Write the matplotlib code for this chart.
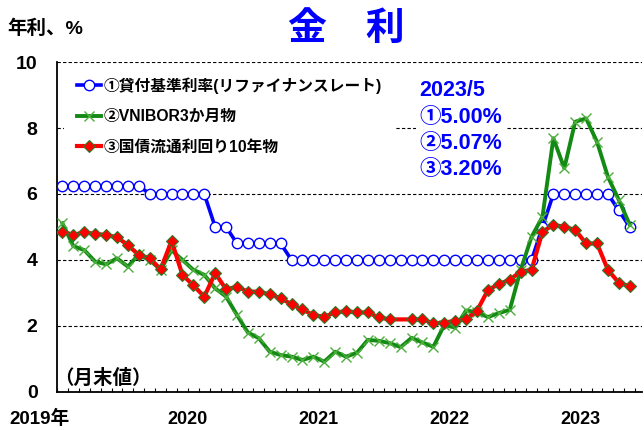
import matplotlib
matplotlib.use("Agg")
import matplotlib.pyplot as plt
import numpy as np

plt.rcParams['font.family'] = ['Liberation Sans', 'Noto Sans CJK JP']
plt.rcParams['font.weight'] = 'bold'

# monthly, 2019/1 .. 2023/5 (month-end values, %)
refinancing = [6.25] * 8 + [6.0] * 6 + [5.0] * 2 + [4.5] * 5 + [4.0] * 23 + [5.0] + [6.0] * 6 + [5.5, 5.0]
vnibor_3m = [5.11, 4.42, 4.30, 3.95, 3.87, 4.05, 3.80, 4.17, 4.00, 3.70, 4.30, 4.00,
             3.70, 3.55, 3.14, 2.89, 2.33, 1.80, 1.63, 1.22, 1.12, 1.07, 0.97, 1.07,
             0.92, 1.22, 1.07, 1.19, 1.58, 1.55, 1.48, 1.36, 1.64, 1.50, 1.37, 2.03,
             1.95, 2.47, 2.42, 2.27, 2.39, 2.49, 3.70, 4.70, 5.31, 7.69, 6.78, 8.19,
             8.29, 7.58, 6.52, 5.82, 5.07]
bond_10y = [4.86, 4.76, 4.84, 4.79, 4.76, 4.69, 4.45, 4.15, 4.05, 3.72, 4.58, 3.55,
            3.23, 2.89, 3.60, 3.11, 3.19, 3.04, 3.04, 2.96, 2.84, 2.66, 2.50, 2.33,
            2.28, 2.41, 2.45, 2.41, 2.41, 2.26, 2.20, 2.20, 2.20, 2.20, 2.08, 2.10,
            2.16, 2.20, 2.46, 3.09, 3.27, 3.40, 3.65, 3.70, 4.86, 5.06, 5.01, 4.91,
            4.50, 4.50, 3.70, 3.31, 3.20]
year_labels = ['2020', '2021', '2022', '2023']
series_names = ['①貸付基準利率(リファイナンスレート)', '②VNIBOR3か月物', '③国債流通利回り10年物']
latest_note = '2023/5\n①5.00%\n②5.07%\n③3.20%'

n = len(refinancing)
x = np.arange(n) + 0.5

fig = plt.figure(figsize=(6.44, 4.30), dpi=100)
ax = fig.add_axes([0.0885, 0.0884, 0.908, 0.7674])

l1, = ax.plot(x, refinancing, color='#0000ff', lw=2.6, marker='o', ms=7.5,
              mfc='white', mec='#0000ff', mew=1.0, zorder=3)
l2, = ax.plot(x, vnibor_3m, color='#138a13', lw=2.8, marker='x', ms=6.5,
              mec='#4cae3c', mew=1.0, zorder=4)
red_marks = [i for i in range(n) if i != 31]
l3, = ax.plot(x, bond_10y, color='#ff0000', lw=3.0, marker='D', ms=6.5,
              mfc='#ff0000', mec='#2a7a2a', mew=0.8, markevery=red_marks, zorder=5)

ax.set_xlim(0, 53.6)
ax.set_ylim(0, 10)
ax.set_yticks([0, 2, 4, 6, 8, 10])
ax.tick_params(axis='y', length=0, pad=14, labelsize=14)
ax.set_xticks([12, 24, 36, 48])
ax.set_xticklabels(year_labels)
ax.set_xticks(np.arange(0, 54), minor=True)
ax.tick_params(axis='x', which='both', direction='in', length=3, width=0.8, pad=14, labelsize=13)
ax.text(-1.6, -0.081, '2019年', ha='center', va='center', fontsize=13.5, clip_on=False,
        transform=ax.get_xaxis_transform())

ax.yaxis.grid(True, color='black', lw=0.8, linestyle=(0, (3, 2)))
ax.set_axisbelow(True)
for s in ['top', 'right']:
    ax.spines[s].set_visible(False)
ax.spines['left'].set_linewidth(1.3)
ax.spines['bottom'].set_linewidth(1.3)

leg = ax.legend([l1, l2, l3], series_names, loc='upper left', bbox_to_anchor=(0.012, 0.995),
                frameon=True, fancybox=False, facecolor='white', edgecolor='none', framealpha=1,
                fontsize=11.3, handlelength=1.5, handletextpad=0.15, labelspacing=0.99,
                borderpad=0.85, borderaxespad=0, numpoints=1)
leg.set_zorder(6)

ax.text(0.62, 0.945, latest_note, transform=ax.transAxes, ha='left', va='top', fontsize=15.5,
        color='#0000ff', linespacing=1.34, zorder=6,
        bbox=dict(boxstyle='square,pad=0.15', fc='white', ec='none'))
ax.text(-0.005, 0.042, '（月末値）', transform=ax.transAxes, ha='left', va='center', fontsize=14)

fig.text(0.538, 0.93, '金\u3000利', ha='center', va='center', fontsize=28, color='#0000ff')
fig.text(0.012, 0.932, '年利、%', ha='left', va='center', fontsize=14)

fig.savefig('out.png', dpi=100)
